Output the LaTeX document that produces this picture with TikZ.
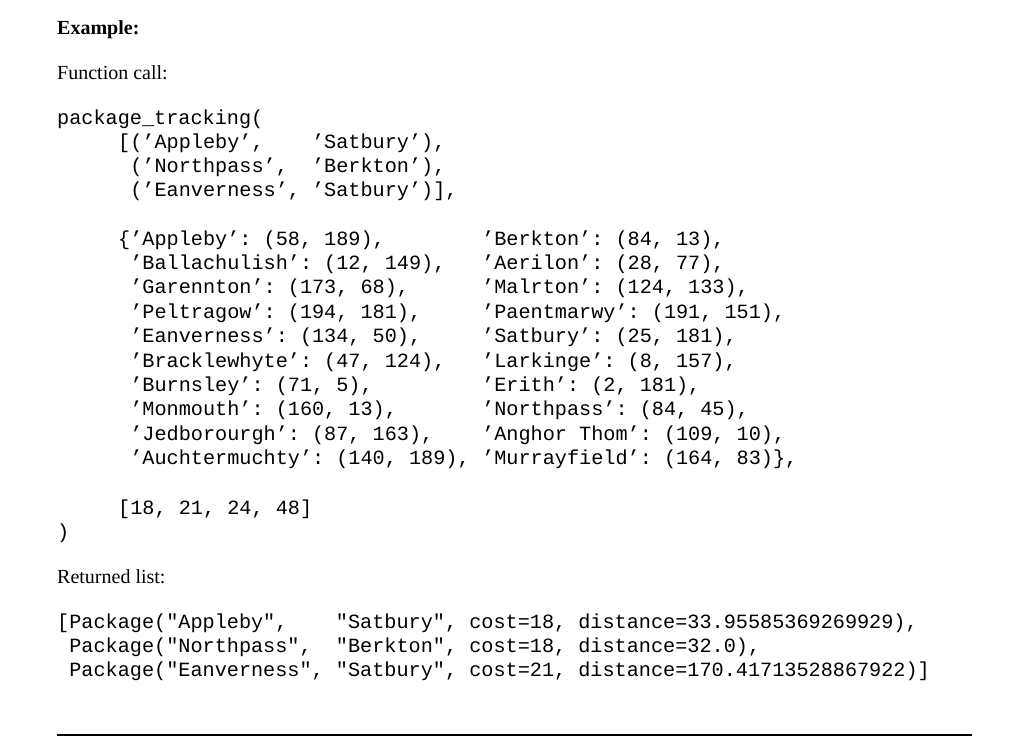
\documentclass[tikz,border=0pt]{standalone}
\usepackage{fontspec}
\setmainfont{Liberation Serif}
\setmonofont{Liberation Mono}
\begin{document}
\begin{tikzpicture}[x=1pt,y=-1pt,
  tx/.style={anchor=base west,inner sep=0pt,font=\fontsize{20}{24}\selectfont},
  cd/.style={anchor=base west,inner sep=0pt,font=\fontsize{20.2}{24}\ttfamily}]
\useasboundingbox (0,0) rectangle (1024,737);
\node[tx,font=\fontsize{20}{24}\selectfont\bfseries] (t1) at (57,34) {Example:};
\node[tx] (t2) at (57,79) {Function call:};
\node[cd] (c1) at (57,124) {package\_tracking(};
\node[cd] (c2) at (118,148) {[(’Appleby’,~~~~’Satbury’),};
\node[cd] (c3) at (118,172) {~(’Northpass’,~~’Berkton’),};
\node[cd] (c4) at (118,196) {~(’Eanverness’,~’Satbury’)],};
\foreach \i/\l/\r in {0/{\{’Appleby’: (58, 189),}/{’Berkton’: (84, 13),},
  1/{~’Ballachulish’: (12, 149),}/{’Aerilon’: (28, 77),},
  2/{~’Garennton’: (173, 68),}/{’Malrton’: (124, 133),},
  3/{~’Peltragow’: (194, 181),}/{’Paentmarwy’: (191, 151),},
  4/{~’Eanverness’: (134, 50),}/{’Satbury’: (25, 181),},
  5/{~’Bracklewhyte’: (47, 124),}/{’Larkinge’: (8, 157),},
  6/{~’Burnsley’: (71, 5),}/{’Erith’: (2, 181),},
  7/{~’Monmouth’: (160, 13),}/{’Northpass’: (84, 45),},
  8/{~’Jedborourgh’: (87, 163),}/{’Anghor Thom’: (109, 10),},
  9/{~’Auchtermuchty’: (140, 189),}/{’Murrayfield’: (164, 83)\},}}{
  \node[cd] (l\i) at (118,245+24.4*\i) {\l};
  \node[cd] (r\i) at (482,245+24.4*\i) {\r};
}
\node[cd] (c5) at (118,514) {[18, 21, 24, 48]};
\node[cd] (c6) at (57,538) {)};
\node[tx] (t3) at (57,583) {Returned list:};
\node[cd] (p1) at (57,628) {[Package("Appleby",~~~~"Satbury", cost=18, distance=33.95585369269929),};
\node[cd] (p2) at (57,652) {~Package("Northpass",~~"Berkton", cost=18, distance=32.0),};
\node[cd] (p3) at (57,676) {~Package("Eanverness",~"Satbury", cost=21, distance=170.41713528867922)]};
\draw[line width=1.2pt] (57,735) -- (972,735);
\end{tikzpicture}
\end{document}
